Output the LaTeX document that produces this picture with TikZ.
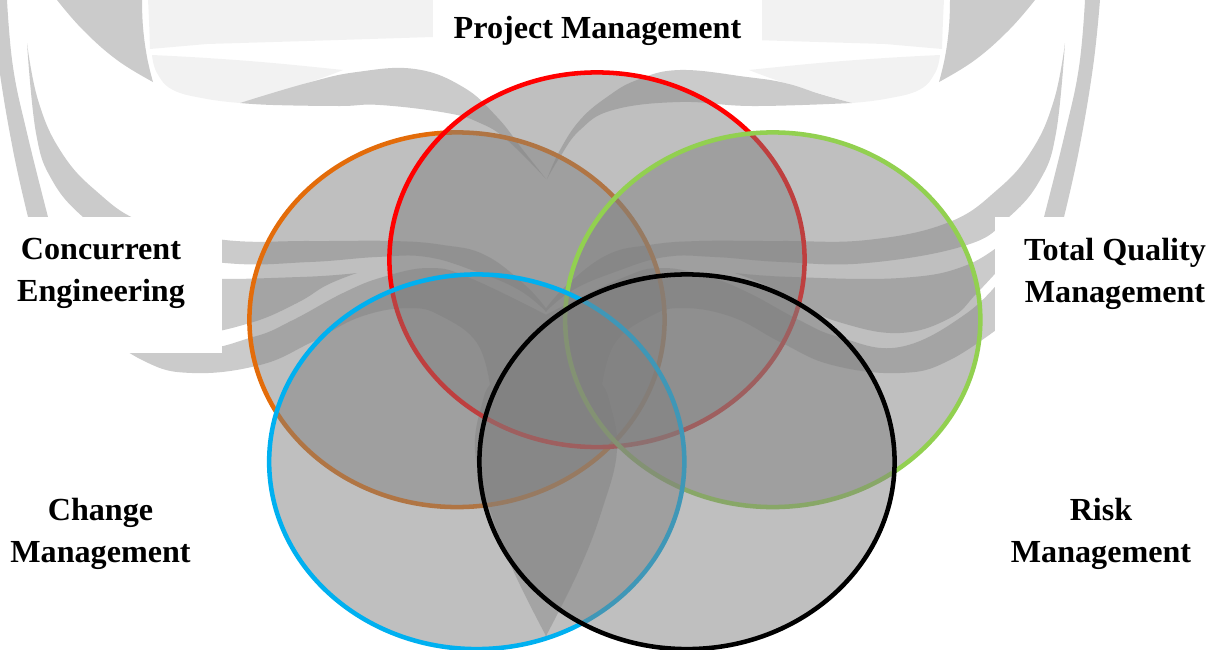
\documentclass[tikz,border=0pt]{standalone}
\usepackage{fontspec}
\setmainfont{Liberation Serif}
\usetikzlibrary{shapes.geometric}
\definecolor{wmdark}{HTML}{CBCBCB}
\definecolor{wmlight}{HTML}{F2F2F2}
\definecolor{setfill}{HTML}{7F7F7F}
\definecolor{setorange}{HTML}{E36C0A}
\definecolor{setgreen}{HTML}{92D050}
\definecolor{setcyan}{HTML}{00B0F0}
\tikzset{
  wd/.style={fill=wmdark},
  wl/.style={fill=wmlight},
  cv/.style={smooth,tension=0.7},
  setshape/.style={ellipse,inner sep=0pt,outer sep=0pt,minimum width=311.4pt,minimum height=281pt,
    fill=setfill,fill opacity=0.5,line width=3.4pt},
  lab/.style={font=\fontsize{24.1}{31.5}\selectfont\bfseries,align=center,text=black,inner sep=0pt},
  mask/.style={fill=white}
}
\newcommand{\wmhalf}{%
  % light shapes
  \fill[wl] (148,0) -- (546.5,0) -- (546.5,36) -- (433,37) -- (307,41) -- (207,44) -- (150,49) -- plot[cv] coordinates {(150,49) (149,20) (148,0)} -- cycle;
  \fill[wl] plot[cv] coordinates {(152,55) (207,58) (273,63) (343,70)} -- plot[cv] coordinates {(343,70) (307,83) (240,103)} -- plot[cv] coordinates {(240,103) (207,99) (173,90) (157,73) (152,55)} -- cycle;
  % wedge
  \fill[wd] (57,0) -- plot[cv] coordinates {(57,0) (83,30) (117,60) (153,82)} -- plot[cv] coordinates {(153,82) (147,57) (143,27) (142,0)} -- cycle;
  % outer strip
  \fill[wd] (-8,0) -- (7,0) -- plot[cv] coordinates {(7,0) (13,67) (27,133) (48,217)} -- (50,240) -- (30,240) -- plot[cv] coordinates {(28,217) (13,150) (-1,67) (-8,0)} -- cycle;
  % band A with inner strip
  \fill[wd] plot[cv] coordinates {(27,43) (38,100) (60,150) (95,190) (145,223) (225,240) (310,241) (393,241) (443,245) (485,255) (525,285) (546.5,309)} -- plot[cv] coordinates {(546.5,312) (519,290) (477,272) (427,257) (377,257) (310,262) (225,263) (125,245) (83,217) (52,180) (36,133) (27,43)} -- cycle;
  % band B
  \fill[wd] plot[cv] coordinates {(357,273) (300,277) (192,278) (125,265) (80,235)} -- plot[cv] coordinates {(80,255) (115,293) (142,318) (192,333) (250,323) (297,303) (327,285) (357,273)} -- cycle;
  % band C with shield
  \fill[wd] plot[cv] coordinates {(85,272) (125,313) (192,347) (253,337) (293,320) (343,293) (383,277) (430,268) (470,278) (546.5,315)} -- (546.5,636) -- plot[cv] coordinates {(546,636) (513,570) (490,510) (475,450) (483,400) (490,385)} -- plot[cv] coordinates {(490,385) (477,343) (443,317) (410,308) (360,317) (310,343) (260,365) (192,373) (142,360) (80,318)} -- cycle;
}
\begin{document}
\begin{tikzpicture}[x=0.75pt,y=-0.75pt]
\useasboundingbox (0,0) rectangle (1222,650);
\clip (0,0) rectangle (1222,650);
% watermark, left half and its mirror image
\wmhalf
\begin{scope}[shift={(1092,0)},xscale=-1]
\wmhalf
\end{scope}
% leaves at the top centre
\fill[wd] plot[cv] coordinates {(240,103) (307,83) (357,72) (415,69) (463,87) (497,117) (523,150) (546,179)} -- plot[cv] coordinates {(546,179) (507,140) (480,123) (447,113) (380,105) (340,106) (273,105) (240,103)} -- cycle;
\fill[wd] plot[cv] coordinates {(547,179) (560,150) (580,120) (607,97) (637,80) (680,70) (747,77) (785,83) (820,94) (852,103)} -- plot[cv] coordinates {(852,103) (752,106) (680,102) (613,110) (580,130) (560,157) (547,179)} -- cycle;
% white patches behind the labels
\fill[mask] (0,217) rectangle (222,353);
\fill[mask] (995,217) rectangle (1222,353);
\fill[mask] (433,0) rectangle (762,45);
% the five sets
\node[setshape,draw=setorange] (ce) at (457,319.75) {};
\node[setshape,draw=red] (pm) at (597,259.75) {};
\node[setshape,draw=setgreen] (tqm) at (772.75,319.75) {};
\node[setshape,draw=setcyan] (cm) at (476.75,461.75) {};
\node[setshape,draw=black] (rm) at (687,461.75) {};
% labels
\node[lab] (lpm) at (597.5,31) {Project Management};
\node[lab] (lce) at (101,273.5) {Concurrent\\Engineering};
\node[lab] (ltq) at (1115,273.5) {Total Quality\\Management};
\node[lab] (lcm) at (100.5,533.5) {Change\\Management};
\node[lab] (lrm) at (1101,533.5) {Risk\\Management};
\end{tikzpicture}
\end{document}
